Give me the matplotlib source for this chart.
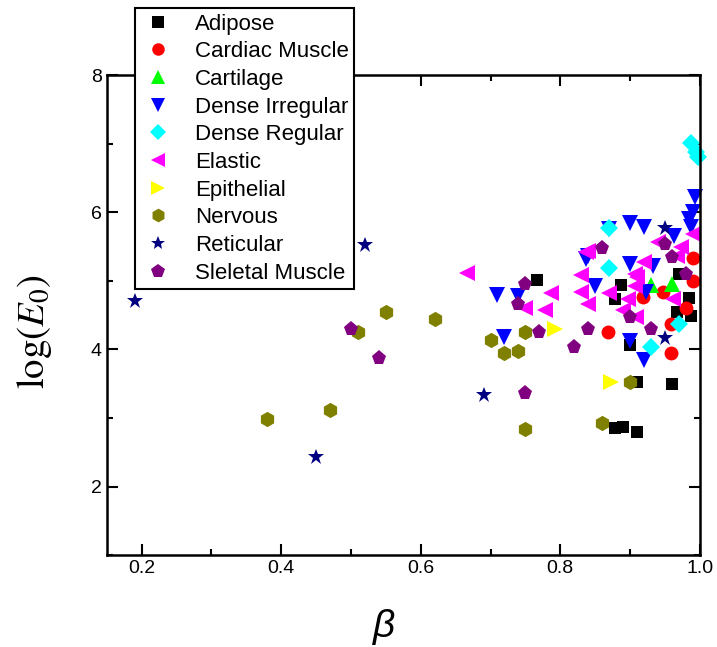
import matplotlib.pyplot as plt
from matplotlib.ticker import MultipleLocator

plt.rcParams['font.family'] = ['Liberation Sans', 'DejaVu Sans']
plt.rcParams['mathtext.fontset'] = 'stix'

# beta, log(E0) for each tissue class
adipose_x = [0.767, 0.887, 0.878, 0.90, 0.91, 0.96, 0.878, 0.89, 0.91, 0.985, 0.987, 0.967, 0.97]
adipose_y = [5.01, 4.94, 4.73, 4.07, 3.52, 3.50, 2.86, 2.87, 2.80, 4.75, 4.49, 4.54, 5.10]

cardiac_x = [0.869, 0.959, 0.959, 0.98, 0.99, 0.99, 0.919, 0.947]
cardiac_y = [4.25, 3.94, 4.37, 4.60, 5.33, 5.00, 4.76, 4.84]

cartilage_x = [0.93, 0.96]
cartilage_y = [4.94, 4.96]

dense_irr_x = [0.71, 0.74, 0.72, 0.90, 0.92, 0.90, 0.92, 0.87, 0.963, 0.993, 0.99, 0.985,
               0.987, 0.84, 0.90, 0.933, 0.85, 0.837, 0.923]
dense_irr_y = [4.79, 4.78, 4.18, 4.12, 3.85, 5.84, 5.78, 5.76, 5.66, 6.22, 6.00, 5.90,
               5.78, 5.36, 5.24, 5.21, 4.93, 5.32, 4.83]

dense_reg_x = [0.987, 0.994, 0.997, 0.87, 0.87, 0.93, 0.97]
dense_reg_y = [7.01, 6.88, 6.80, 5.77, 5.19, 4.03, 4.37]

elastic_x = [0.667, 0.787, 0.778, 0.75, 0.83, 0.837, 0.83, 0.84, 0.87, 0.907, 0.92, 0.94,
             0.973, 0.99, 0.968, 0.907, 0.897, 0.89, 0.909, 0.961, 0.91, 0.84]
elastic_y = [5.12, 4.82, 4.57, 4.61, 5.08, 5.42, 4.83, 4.66, 4.82, 5.10, 5.27, 5.56,
             5.49, 5.68, 5.36, 4.93, 4.73, 4.58, 4.47, 4.73, 5.05, 5.43]

epithelial_x = [0.793, 0.873]
epithelial_y = [4.30, 3.53]

nervous_x = [0.38, 0.47, 0.55, 0.62, 0.51, 0.70, 0.72, 0.74, 0.75, 0.75, 0.86, 0.90]
nervous_y = [2.99, 3.11, 4.54, 4.44, 4.26, 4.13, 3.95, 3.97, 4.25, 2.84, 2.93, 3.53]

reticular_x = [0.19, 0.52, 0.45, 0.69, 0.95, 0.95]
reticular_y = [4.70, 5.52, 2.43, 3.34, 5.77, 4.17]

skeletal_x = [0.50, 0.54, 0.75, 0.77, 0.82, 0.84, 0.90, 0.93, 0.74, 0.75, 0.86, 0.95, 0.96, 0.98]
skeletal_y = [4.30, 3.87, 3.37, 4.26, 4.03, 4.29, 4.47, 4.30, 4.66, 4.95, 5.48, 5.53, 5.35, 5.10]

series = [
    ('Adipose', adipose_x, adipose_y, 's', 'black', 9),
    ('Cardiac Muscle', cardiac_x, cardiac_y, 'o', 'red', 10),
    ('Cartilage', cartilage_x, cartilage_y, '^', '#00ff00', 11),
    ('Dense Irregular', dense_irr_x, dense_irr_y, 'v', 'blue', 11),
    ('Dense Regular', dense_reg_x, dense_reg_y, 'D', 'cyan', 9),
    ('Elastic', elastic_x, elastic_y, '<', 'magenta', 11),
    ('Epithelial', epithelial_x, epithelial_y, '>', 'yellow', 11),
    ('Nervous', nervous_x, nervous_y, 'h', 'olive', 11),
    ('Reticular', reticular_x, reticular_y, '*', 'navy', 12),
    ('Sleletal Muscle', skeletal_x, skeletal_y, 'p', 'purple', 11),
]

fig = plt.figure(figsize=(7.17, 6.47), dpi=100)
ax = fig.add_axes([0.149, 0.142, 0.827, 0.742])

for name, xs, ys, mk, col, ms in series:
    ax.plot(xs, ys, linestyle='none', marker=mk, color=col, markersize=ms,
            markeredgewidth=0, label=name, clip_on=False)

ax.set_xlim(0.15, 1.0)
ax.set_ylim(1, 8)
ax.xaxis.set_major_locator(MultipleLocator(0.2))
ax.xaxis.set_minor_locator(MultipleLocator(0.1))
ax.yaxis.set_major_locator(MultipleLocator(2))
ax.yaxis.set_minor_locator(MultipleLocator(1))
ax.tick_params(which='both', direction='in', top=True, right=True, labelsize=14, width=1.5)
ax.tick_params(which='major', length=8)
ax.tick_params(which='minor', length=4)
for sp in ax.spines.values():
    sp.set_linewidth(1.8)

fig.text(34 / 717, 1 - 332 / 647, r'$\log(E_0)$', rotation=90, ha='center', va='center', fontsize=28)
fig.text(384 / 717, 1 - 627 / 647, 'β', fontstyle='italic', ha='center', va='center', fontsize=28)

leg = ax.legend(loc='upper left', bbox_to_anchor=(135 / 717, 1 - 8 / 647),
                bbox_transform=fig.transFigure, fontsize=16, frameon=True, fancybox=False,
                borderpad=0.25, labelspacing=0.3, handletextpad=0.85, handlelength=1.6,
                borderaxespad=0, markerscale=0.9)
leg.get_frame().set_edgecolor('black')
leg.get_frame().set_linewidth(1.5)
leg.get_frame().set_alpha(1)
leg.set_zorder(10)

plt.savefig('out.png')
